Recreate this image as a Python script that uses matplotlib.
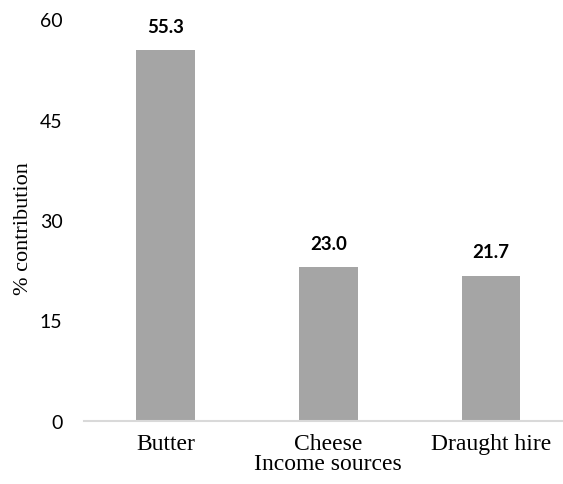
import matplotlib
matplotlib.use('Agg')
import matplotlib.pyplot as plt

# Share of household income by source (%)
sources = ['Butter', 'Cheese', 'Draught hire']
contribution = [55.3, 23.0, 21.7]
y_ticks = [0, 15, 30, 45, 60]

BAR_COLOR = '#A5A5A5'
AXIS_COLOR = '#D9D9D9'

fig = plt.figure(figsize=(5.63, 4.85), dpi=100)
# axes run past the right edge, as in the original export
ax = fig.add_axes([84 / 563, 63 / 485, 488.5 / 563, 402 / 485])

x = range(len(sources))
bars = ax.bar(x, contribution, width=0.36, color=BAR_COLOR, zorder=2)

for rect, val in zip(bars, contribution):
    ax.annotate(f'{val:.1f}', (rect.get_x() + rect.get_width() / 2, rect.get_height()),
                xytext=(0, 11), textcoords='offset points', ha='center', va='bottom',
                fontsize=13.5, fontweight='bold', family='Lato', color='black')

ax.set_xlim(-0.5, 2.5)
ax.set_ylim(0, 60)
ax.set_yticks(y_ticks)
ax.set_yticklabels([str(t) for t in y_ticks], family='Lato', fontsize=14)
ax.set_xticks(list(x))
ax.set_xticklabels(sources, family='Liberation Serif', fontsize=17)
ax.tick_params(axis='both', length=0)
ax.tick_params(axis='y', pad=15.5)
ax.tick_params(axis='x', pad=8.5)

for side in ['top', 'right', 'left']:
    ax.spines[side].set_visible(False)
ax.spines['bottom'].set_color(AXIS_COLOR)
ax.spines['bottom'].set_linewidth(1.5)

ax.set_xlabel('Income sources', family='Liberation Serif', fontsize=17, va='center')
ax.set_ylabel('% contribution', family='Liberation Serif', fontsize=16, va='center')
ax.xaxis.set_label_coords(0.5, -43 / 402)
ax.yaxis.set_label_coords(-61 / 488.5, 0.48)

fig.savefig('out.png', dpi=100)
